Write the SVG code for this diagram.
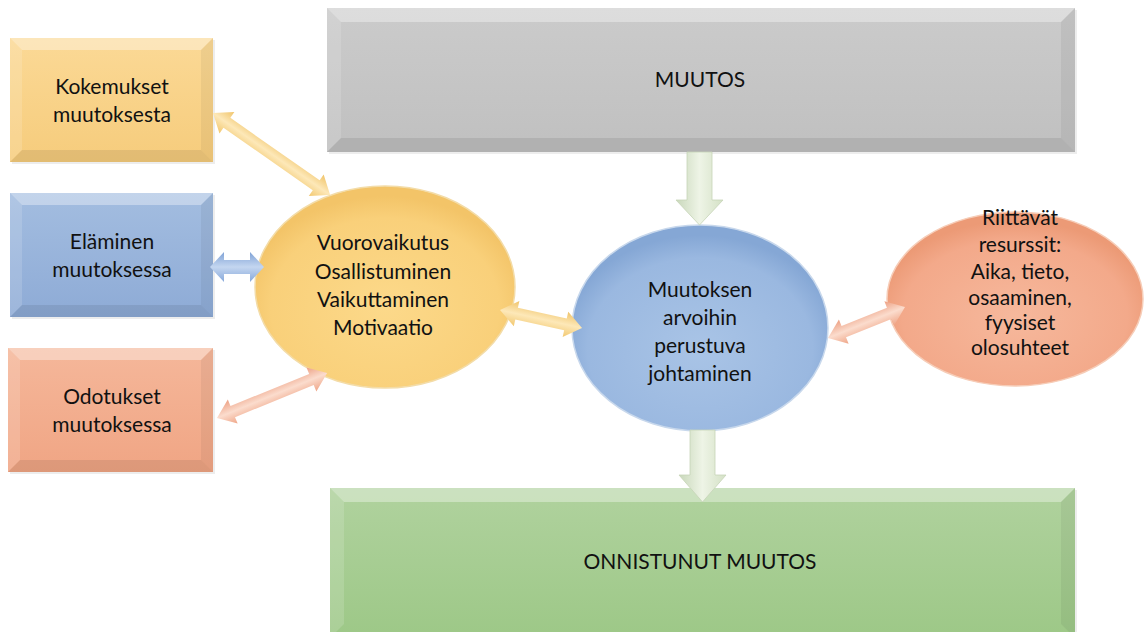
<svg xmlns="http://www.w3.org/2000/svg" width="1147" height="632" viewBox="0 0 1147 632">
<style>
  text{font-family:Lato,"Open Sans","Liberation Sans",sans-serif;font-size:21px;fill:#111;text-anchor:middle}
  .bt{fill:#fff;opacity:.35}
  .bl{fill:#fff;opacity:.14}
  .br{fill:#000;opacity:.05}
  .bb{fill:#000;opacity:.08}
  .sh{fill:#000;opacity:.07}
</style>
<defs>
  <linearGradient id="gY" x1="0" y1="0" x2="0" y2="1"><stop offset="0" stop-color="#fbd996"/><stop offset="1" stop-color="#f6cc7c"/></linearGradient>
  <linearGradient id="gB" x1="0" y1="0" x2="0" y2="1"><stop offset="0" stop-color="#a3bde0"/><stop offset="1" stop-color="#8eabd6"/></linearGradient>
  <linearGradient id="gS" x1="0" y1="0" x2="0" y2="1"><stop offset="0" stop-color="#f5b79a"/><stop offset="1" stop-color="#f0a584"/></linearGradient>
  <linearGradient id="gG" x1="0" y1="0" x2="0" y2="1"><stop offset="0" stop-color="#cbcbcb"/><stop offset="1" stop-color="#c0c0c0"/></linearGradient>
  <linearGradient id="gN" x1="0" y1="0" x2="0" y2="1"><stop offset="0" stop-color="#b0d29e"/><stop offset="1" stop-color="#9dc887"/></linearGradient>
  <radialGradient id="rY" cx="0.5" cy="0.6" r="0.55"><stop offset="0" stop-color="#fcd98a"/><stop offset="0.8" stop-color="#f9d07a"/><stop offset="1" stop-color="#f3c468"/></radialGradient>
  <radialGradient id="rB" cx="0.5" cy="0.6" r="0.55"><stop offset="0" stop-color="#a9c4e6"/><stop offset="0.8" stop-color="#9ab8e0"/><stop offset="1" stop-color="#85a7d5"/></radialGradient>
  <radialGradient id="rS" cx="0.5" cy="0.6" r="0.55"><stop offset="0" stop-color="#f6b89c"/><stop offset="0.8" stop-color="#f3a98a"/><stop offset="1" stop-color="#ec9a76"/></radialGradient>
  <linearGradient id="aY" x1="0" y1="0" x2="0" y2="1"><stop offset="0" stop-color="#f0c46a"/><stop offset="0.5" stop-color="#fde8b8"/><stop offset="1" stop-color="#f2c870"/></linearGradient>
  <linearGradient id="aB" x1="0" y1="0" x2="0" y2="1"><stop offset="0" stop-color="#7fa2d6"/><stop offset="0.5" stop-color="#c4d6f0"/><stop offset="1" stop-color="#86a8da"/></linearGradient>
  <linearGradient id="aS" x1="0" y1="0" x2="0" y2="1"><stop offset="0" stop-color="#eda083"/><stop offset="0.5" stop-color="#fbdccd"/><stop offset="1" stop-color="#efa688"/></linearGradient>
  <linearGradient id="aG" x1="0" y1="0" x2="1" y2="0"><stop offset="0" stop-color="#c9d8bb"/><stop offset="0.5" stop-color="#eef4e6"/><stop offset="1" stop-color="#d4e1c6"/></linearGradient>
</defs>
<rect width="1147" height="632" fill="#fff"/>

<g id="muutos">
  <rect class="sh" x="329" y="10" width="748" height="144"/>
  <rect x="327" y="8" width="748" height="144" fill="url(#gG)"/>
  <polygon class="bt" points="327,8 1075,8 1061,22 341,22"/>
  <polygon class="bl" points="327,8 341,22 341,138 327,152"/>
  <polygon class="br" points="1075,8 1075,152 1061,138 1061,22"/>
  <polygon class="bb" points="327,152 1075,152 1061,138 341,138"/>
  <text x="700" y="87">MUUTOS</text>
</g>

<g id="onnistunut">
  <rect class="sh" x="332" y="490" width="745" height="150"/>
  <rect x="330" y="488" width="745" height="150" fill="url(#gN)"/>
  <polygon class="bt" points="330,488 1075,488 1061,502 344,502"/>
  <polygon class="bl" points="330,488 344,502 344,624 330,638"/>
  <polygon class="br" points="1075,488 1075,638 1061,624 1061,502"/>
  <text x="700" y="569">ONNISTUNUT MUUTOS</text>
</g>

<g id="kokemukset">
  <rect class="sh" x="12" y="40" width="203" height="124"/>
  <rect x="10" y="38" width="203" height="124" fill="url(#gY)"/>
  <polygon class="bt" points="10,38 213,38 201,50 22,50"/>
  <polygon class="bl" points="10,38 22,50 22,150 10,162"/>
  <polygon class="br" points="213,38 213,162 201,150 201,50"/>
  <polygon class="bb" points="10,162 213,162 201,150 22,150"/>
  <text x="112" y="94">Kokemukset</text>
  <text x="112" y="122">muutoksesta</text>
</g>

<g id="elaminen">
  <rect class="sh" x="12" y="195" width="203" height="124"/>
  <rect x="10" y="193" width="203" height="124" fill="url(#gB)"/>
  <polygon class="bt" points="10,193 213,193 201,205 22,205"/>
  <polygon class="bl" points="10,193 22,205 22,305 10,317"/>
  <polygon class="br" points="213,193 213,317 201,305 201,205"/>
  <polygon class="bb" points="10,317 213,317 201,305 22,305"/>
  <text x="112" y="249">Eläminen</text>
  <text x="112" y="277">muutoksessa</text>
</g>

<g id="odotukset">
  <rect class="sh" x="10" y="350" width="205" height="124"/>
  <rect x="8" y="348" width="205" height="124" fill="url(#gS)"/>
  <polygon class="bt" points="8,348 213,348 201,360 20,360"/>
  <polygon class="bl" points="8,348 20,360 20,460 8,472"/>
  <polygon class="br" points="213,348 213,472 201,460 201,360"/>
  <polygon class="bb" points="8,472 213,472 201,460 20,460"/>
  <text x="112" y="404">Odotukset</text>
  <text x="112" y="432">muutoksessa</text>
</g>

<g id="vuorovaikutus">
  <ellipse cx="385" cy="287" rx="130" ry="101" fill="url(#rY)" stroke="#f3dca8" stroke-width="1.5"/>
  <text x="383" y="250">Vuorovaikutus</text>
  <text x="383" y="279">Osallistuminen</text>
  <text x="383" y="307">Vaikuttaminen</text>
  <text x="383" y="335">Motivaatio</text>
</g>

<g id="johtaminen">
  <ellipse cx="700" cy="328" rx="128" ry="103" fill="url(#rB)" stroke="#c8d8ec" stroke-width="1.5"/>
  <text x="700" y="297">Muutoksen</text>
  <text x="700" y="325">arvoihin</text>
  <text x="700" y="353">perustuva</text>
  <text x="700" y="381">johtaminen</text>
</g>

<g id="resurssit">
  <ellipse cx="1015" cy="299" rx="128" ry="87" fill="url(#rS)" stroke="#f6cdb8" stroke-width="1.5"/>
  <text x="1020" y="225">Riittävät</text>
  <text x="1020" y="252">resurssit:</text>
  <text x="1020" y="279">Aika, tieto,</text>
  <text x="1020" y="305">osaaminen,</text>
  <text x="1020" y="330">fyysiset</text>
  <text x="1020" y="355">olosuhteet</text>
</g>

<g id="connectors">
  <path transform="translate(213,113) rotate(35)" d="M0,0 L17,-13 L17,-6 L126,-6 L126,-13 L143,0 L126,13 L126,6 L17,6 L17,13 Z" fill="url(#aY)"/>
  <path transform="translate(210,267)" d="M0,0 L14,-15 L14,-7 L40,-7 L40,-15 L54,0 L40,15 L40,7 L14,7 L14,15 Z" fill="url(#aB)"/>
  <path transform="translate(217,418) rotate(-22.2)" d="M0,0 L17,-13 L17,-6 L102,-6 L102,-13 L119,0 L102,13 L102,6 L17,6 L17,13 Z" fill="url(#aS)"/>
  <path transform="translate(500,310) rotate(12.4)" d="M0,0 L17,-13 L17,-6 L67,-6 L67,-13 L84,0 L67,13 L67,6 L17,6 L17,13 Z" fill="url(#aY)"/>
  <path transform="translate(828,338) rotate(-21.9)" d="M0,0 L17,-13 L17,-6 L66,-6 L66,-13 L83,0 L66,13 L66,6 L17,6 L17,13 Z" fill="url(#aS)"/>
  <path d="M687,152 L712,152 L712,200 L723,200 L699.5,225 L676,200 L687,200 Z" fill="url(#aG)" stroke="#c6d4b8" stroke-width="0.8"/>
  <path d="M690,430 L715,430 L715,475 L726,475 L702.5,502 L679,475 L690,475 Z" fill="url(#aG)" stroke="#c6d4b8" stroke-width="0.8"/>
</g>
</svg>
